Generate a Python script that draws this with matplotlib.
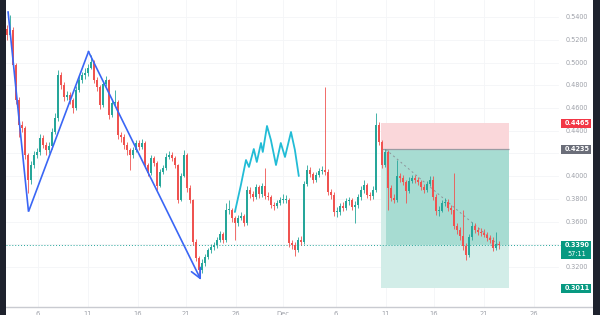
import matplotlib
matplotlib.use('Agg')
import matplotlib.pyplot as plt
from matplotlib.transforms import blended_transform_factory
from matplotlib.patches import Rectangle

# ---------------- data ----------------
closes = [0.5244, 0.5288, 0.4979, 0.4671, 0.4451, 0.4424, 0.4186, 0.3966, 0.4098, 0.4186,
          0.4213, 0.4336, 0.4275, 0.4230, 0.4266, 0.4389, 0.4512, 0.4891, 0.4803, 0.4697,
          0.4715, 0.4671, 0.4601, 0.4759, 0.4847, 0.4891, 0.4909, 0.4953, 0.5006, 0.4847,
          0.4786, 0.4627, 0.4812, 0.4847, 0.4539, 0.4645, 0.4653, 0.4363, 0.4345, 0.4275,
          0.4230, 0.4186, 0.4230, 0.4292, 0.4257, 0.4292, 0.4098, 0.4028, 0.4160, 0.4116,
          0.3913, 0.4037, 0.4072, 0.4169, 0.4186, 0.4160, 0.4098, 0.3790, 0.4001, 0.4186,
          0.3896, 0.3790, 0.3420, 0.3279, 0.3173, 0.3235, 0.3288, 0.3349, 0.3376, 0.3394,
          0.3438, 0.3490, 0.3438, 0.3702, 0.3702, 0.3631, 0.3587, 0.3631, 0.3649, 0.3587,
          0.3878, 0.3843, 0.3816, 0.3905, 0.3843, 0.3913, 0.3825, 0.3816, 0.3746, 0.3737,
          0.3764, 0.3790, 0.3790, 0.3790, 0.3411, 0.3394, 0.3349, 0.3438, 0.3420, 0.3931,
          0.4054, 0.4019, 0.3966, 0.4010, 0.4045, 0.4054, 0.4037, 0.3860, 0.3834, 0.3684,
          0.3684, 0.3737, 0.3720, 0.3781, 0.3790, 0.3728, 0.3746, 0.3816, 0.3878, 0.3922,
          0.3834, 0.3825, 0.3878, 0.4451, 0.4301, 0.4098, 0.4213, 0.3896, 0.3808, 0.3790,
          0.4001, 0.3984, 0.3949, 0.3869, 0.3957, 0.3984, 0.3966, 0.3949, 0.3905, 0.3878,
          0.3931, 0.3966, 0.3816, 0.3693, 0.3693, 0.3764, 0.3772, 0.3720, 0.3702, 0.3561,
          0.3526, 0.3473, 0.3385, 0.3305, 0.3464, 0.3561, 0.3526, 0.3508, 0.3499, 0.3482,
          0.3455, 0.3438, 0.3367, 0.3402, 0.3390]
highs = [0.5330, 0.5420, 0.5310, 0.5000, 0.4700, 0.4490, 0.4440, 0.4200, 0.4130, 0.4220,
         0.4250, 0.4370, 0.4360, 0.4300, 0.4300, 0.4420, 0.4560, 0.4935, 0.4920, 0.4830,
         0.4750, 0.4740, 0.4690, 0.4790, 0.4880, 0.4920, 0.4950, 0.4990, 0.5067, 0.5020,
         0.4870, 0.4800, 0.4840, 0.4880, 0.4860, 0.4680, 0.4759, 0.4670, 0.4390, 0.4370,
         0.4300, 0.4250, 0.4260, 0.4320, 0.4320, 0.4330, 0.4310, 0.4120, 0.4190, 0.4180,
         0.4130, 0.4060, 0.4100, 0.4200, 0.4220, 0.4210, 0.4180, 0.4110, 0.4030, 0.4231,
         0.4200, 0.3920, 0.3800, 0.3450, 0.3300, 0.3270, 0.3310, 0.3370, 0.3400, 0.3420,
         0.3460, 0.3520, 0.3510, 0.3760, 0.3790, 0.3720, 0.3650, 0.3660, 0.3680, 0.3670,
         0.3910, 0.3900, 0.3870, 0.3930, 0.3920, 0.3940, 0.4072, 0.3860, 0.3830, 0.3770,
         0.3790, 0.3820, 0.3840, 0.3830, 0.3810, 0.3440, 0.3420, 0.3460, 0.3470, 0.3960,
         0.4100, 0.4080, 0.4040, 0.4040, 0.4070, 0.4090, 0.4786, 0.4060, 0.3890, 0.3860,
         0.3730, 0.3760, 0.3770, 0.3810, 0.3820, 0.3810, 0.3780, 0.3840, 0.3910, 0.3970,
         0.3940, 0.3860, 0.3910, 0.4556, 0.4480, 0.4320, 0.4240, 0.4230, 0.3920, 0.3840,
         0.4142, 0.4030, 0.4010, 0.3970, 0.3990, 0.4010, 0.4010, 0.3990, 0.3970, 0.3930,
         0.3960, 0.4000, 0.4000, 0.3840, 0.3740, 0.3790, 0.3810, 0.3800, 0.3750, 0.4028,
         0.3590, 0.3550, 0.3702, 0.3410, 0.3490, 0.3600, 0.3590, 0.3550, 0.3540, 0.3530,
         0.3510, 0.3480, 0.3460, 0.3508, 0.3430]
lows = [0.5200, 0.5220, 0.4950, 0.4640, 0.4345, 0.4390, 0.4150, 0.3852, 0.3930, 0.4070,
        0.4160, 0.4190, 0.4250, 0.4190, 0.4200, 0.4240, 0.4370, 0.4490, 0.4770, 0.4660,
        0.4670, 0.4640, 0.4560, 0.4580, 0.4740, 0.4820, 0.4860, 0.4880, 0.4940, 0.4820,
        0.4750, 0.4590, 0.4610, 0.4790, 0.4500, 0.4520, 0.4620, 0.4330, 0.4300, 0.4240,
        0.4190, 0.4054, 0.4160, 0.4210, 0.4230, 0.4240, 0.4070, 0.4000, 0.4010, 0.4090,
        0.3878, 0.3900, 0.4020, 0.4050, 0.4150, 0.4130, 0.4070, 0.3764, 0.3780, 0.3990,
        0.3860, 0.3760, 0.3390, 0.3250, 0.3103, 0.3150, 0.3210, 0.3270, 0.3320, 0.3350,
        0.3370, 0.3420, 0.3410, 0.3420, 0.3670, 0.3600, 0.3438, 0.3560, 0.3610, 0.3560,
        0.3570, 0.3810, 0.3780, 0.3800, 0.3810, 0.3820, 0.3800, 0.3790, 0.3720, 0.3700,
        0.3720, 0.3750, 0.3760, 0.3760, 0.3380, 0.3360, 0.3297, 0.3330, 0.3390, 0.3400,
        0.3910, 0.3990, 0.3940, 0.3950, 0.3990, 0.4020, 0.4010, 0.3830, 0.3800, 0.3650,
        0.3640, 0.3660, 0.3690, 0.3700, 0.3750, 0.3700, 0.3587, 0.3720, 0.3790, 0.3850,
        0.3810, 0.3790, 0.3800, 0.3860, 0.4270, 0.4070, 0.4080, 0.3702, 0.3780, 0.3760,
        0.3770, 0.3950, 0.3920, 0.3764, 0.3850, 0.3940, 0.3940, 0.3920, 0.3880, 0.3850,
        0.3860, 0.3910, 0.3790, 0.3660, 0.3650, 0.3680, 0.3740, 0.3690, 0.3670, 0.3530,
        0.3490, 0.3440, 0.3350, 0.3261, 0.3290, 0.3440, 0.3500, 0.3480, 0.3470, 0.3460,
        0.3430, 0.3410, 0.3340, 0.3350, 0.3360]
first_open = 0.5300
opens = [first_open] + closes[:-1]

zigzag_idx = [0.4, 7.2, 27.2, 64.7]
zigzag_price = [0.5446, 0.3687, 0.5097, 0.3085]

brush_idx = [76.0, 78.0, 79.7, 80.7, 82.3, 83.3, 84.7, 85.3, 86.7, 88.0, 89.7, 91.3, 92.7, 94.7, 96.0, 97.3]
brush_price = [0.3684, 0.3922, 0.4142, 0.4081, 0.4239, 0.4125, 0.4292, 0.4213, 0.4442, 0.4319,
               0.4098, 0.4292, 0.4169, 0.4389, 0.4231, 0.4001]

price_ticks = [0.54, 0.52, 0.50, 0.48, 0.46, 0.44, 0.42, 0.40, 0.38, 0.36, 0.34, 0.32]
hidden_ticks = [0.42, 0.34]   # fully covered by price tags in the reference
date_labels = ['6', '11', '16', '21', '26', 'Dec', '6', '11', '16', '21', '26']
date_idx = [10.3, 27.0, 43.7, 59.7, 76.3, 92.0, 109.7, 126.3, 142.3, 159.0, 175.7]

stop_price = 0.4465
entry_price = 0.4235
target_price = 0.3011
last_price = 0.3390
countdown = '57:11'
pos_start, pos_end, entry_bar = 124.7, 167.3, 126.3

# ---------------- figure ----------------
plt.rcParams['font.family'] = ['DejaVu Sans']
fig = plt.figure(figsize=(6, 3.15), dpi=100, facecolor='white')
ax = fig.add_axes([6 / 600, 8 / 315, 587 / 600, 307 / 315])
ax.set_facecolor('white')
ax.set_xlim(-0.3, 195.37)
ax.set_ylim(0.2847, 0.5552)
for s in ['top', 'left', 'right']:
    ax.spines[s].set_visible(False)
ax.spines['bottom'].set_color('#c9cbd1')
ax.spines['bottom'].set_linewidth(1.0)
ax.set_xticks([])
ax.set_yticks([])

fig.patches.append(Rectangle((0, 0), 6 / 600, 1, transform=fig.transFigure,
                             facecolor='#1e222d', edgecolor='none'))
fig.patches.append(Rectangle((593 / 600, 0), 7 / 600, 1, transform=fig.transFigure,
                             facecolor='#1e222d', edgecolor='none'))

# grid
for p in price_ticks:
    ax.axhline(p, xmin=0, xmax=0.94, color='#f4f5f7', lw=0.6, zorder=0)
for d in date_idx:
    ax.axvline(d, color='#f4f5f7', lw=0.6, zorder=0)

# position tool
ax.add_patch(Rectangle((pos_start, entry_price), pos_end - pos_start, stop_price - entry_price,
                       facecolor='#fad7da', edgecolor='none', zorder=1))
ax.add_patch(Rectangle((pos_start, target_price), pos_end - pos_start, entry_price - target_price,
                       facecolor='#d2ede8', edgecolor='none', zorder=1))
ax.add_patch(Rectangle((entry_bar, last_price), pos_end - entry_bar, entry_price - last_price,
                       facecolor='#a7dcd2', edgecolor='none', zorder=1.1))
ax.hlines(entry_price, pos_start, pos_end, color='#9a9ca3', lw=0.9, zorder=1.2)
ax.plot([entry_bar, len(closes) - 1], [entry_price, last_price], ls=(0, (2, 3)),
        color='#8d9399', lw=0.7, zorder=1.3)

# current price line
ax.axhline(last_price, xmin=0, xmax=0.945, color='#26a69a', lw=0.7, ls=(0, (1, 2)), zorder=1.5)

# candles
up_c, dn_c = '#26a69a', '#ef5350'
xs = list(range(len(closes)))
cols = [up_c if c >= o else dn_c for o, c in zip(opens, closes)]
ax.vlines(xs, lows, highs, colors=cols, lw=0.6, zorder=3)
bottoms = [min(o, c) for o, c in zip(opens, closes)]
heights = [max(abs(c - o), 0.0006) for o, c in zip(opens, closes)]
ax.bar(xs, heights, bottom=bottoms, width=0.7, color=cols, linewidth=0, zorder=3.1)

# zigzag
blue = '#3a66f5'
ax.plot(zigzag_idx[:-1], zigzag_price[:-1], color=blue, lw=1.2, zorder=4,
        solid_joinstyle='miter')
ax.annotate('', xy=(zigzag_idx[-1], zigzag_price[-1]),
            xytext=(zigzag_idx[-2], zigzag_price[-2]),
            arrowprops=dict(arrowstyle='->,head_length=0.7,head_width=0.35', color=blue,
                            lw=1.2, shrinkA=0, shrinkB=0, mutation_scale=10),
            zorder=4)

# brush
ax.plot(brush_idx, brush_price, color='#22bcd6', lw=1.3, zorder=4,
        solid_joinstyle='round', solid_capstyle='round')

# price scale labels
tr = blended_transform_factory(ax.transAxes, ax.transData)
lx = 0.9727
for p in price_ticks:
    if p in hidden_ticks:
        continue
    ax.text(lx, p, f'{p:.4f}', transform=tr, ha='center', va='center',
            fontsize=4.7, color='#9ea1a9', zorder=5)

bx0, bw = 0.9455, 0.0511
hh = 0.0040


def tag(y, txt, color, y_lo=None, y_hi=None):
    lo = y - hh if y_lo is None else y_lo
    hi = y + hh if y_hi is None else y_hi
    ax.add_patch(Rectangle((bx0, lo), bw, hi - lo, transform=tr, facecolor=color,
                           edgecolor='none', zorder=6, clip_on=False))
    ax.text(lx, y, txt, transform=tr, ha='center', va='center', fontsize=4.7,
            color='white', fontweight='bold', zorder=7)


tag(stop_price, f'{stop_price:.4f}', '#f23645')
tag(entry_price, f'{entry_price:.4f}', '#6b6e79')
tag(last_price, f'{last_price:.4f}', '#089981', y_lo=last_price - 0.0120, y_hi=last_price + 0.0041)
ax.text(lx, last_price - 0.0077, countdown, transform=tr, ha='center', va='center',
        fontsize=4.7, color='white', zorder=7)
tag(target_price, f'{target_price:.4f}', '#089981')

# date labels (cut by the figure edge, as in the reference)
trx = blended_transform_factory(ax.transData, ax.transAxes)
for d, lab in zip(date_idx, date_labels):
    ax.text(d, -0.012, lab, transform=trx, ha='center', va='top', fontsize=4.9,
            color='#9ea1a9', clip_on=False)

fig.savefig('out.png', dpi=100, facecolor='white')
